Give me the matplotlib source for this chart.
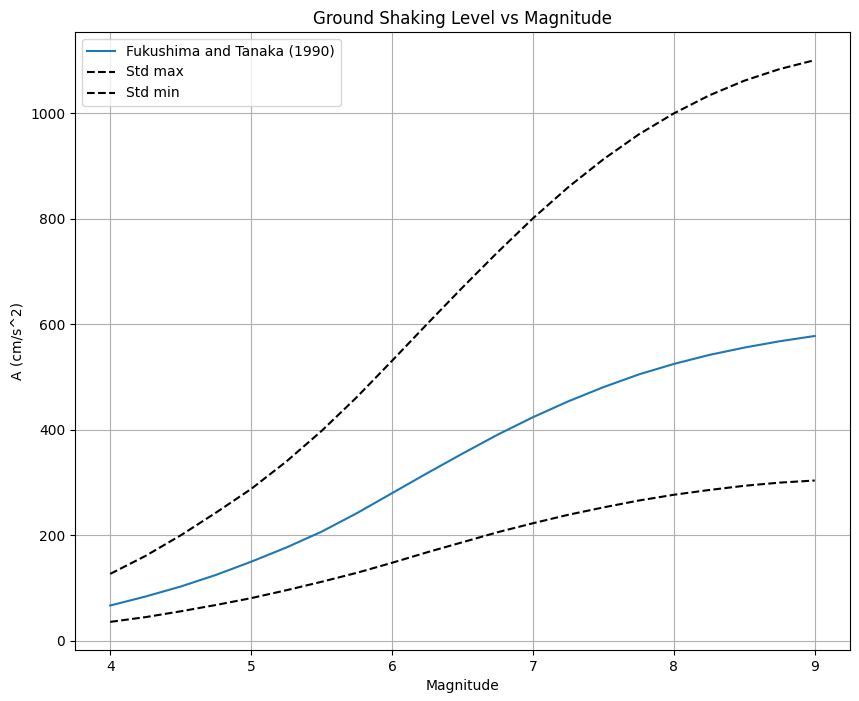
import matplotlib
matplotlib.use("Agg")
import matplotlib.pyplot as plt

magnitude = [4.0, 4.25, 4.5, 4.75, 5.0, 5.25, 5.5, 5.75, 6.0, 6.25, 6.5, 6.75,
             7.0, 7.25, 7.5, 7.75, 8.0, 8.25, 8.5, 8.75, 9.0]
accel_mean = [67, 84, 103, 125, 150, 177, 207, 242, 280, 318, 355, 391,
              424, 454, 481, 505, 525, 542, 556, 568, 578]
accel_max = [127, 161, 200, 243, 288, 340, 398, 462, 531, 601, 670, 737,
             801, 860, 913, 960, 1000, 1034, 1062, 1084, 1101]
accel_min = [36, 45, 56, 68, 81, 96, 112, 129, 148, 168, 187, 206,
             223, 239, 253, 266, 277, 286, 294, 300, 304]

fig = plt.figure(figsize=(8.59, 7.01), dpi=100)
ax = fig.add_axes([0.0873, 0.0728, 0.9022, 0.8815])
ax.plot(magnitude, accel_mean, color="#1f77b4", label="Fukushima and Tanaka (1990)")
ax.plot(magnitude, accel_max, "k--", label="Std max")
ax.plot(magnitude, accel_min, "k--", label="Std min")
ax.set_xlabel("Magnitude")
ax.set_ylabel("A (cm/s^2)")
ax.set_title("Ground Shaking Level vs Magnitude")
ax.grid(True)
ax.legend(loc="upper left")
fig.savefig("out.png", dpi=100)
